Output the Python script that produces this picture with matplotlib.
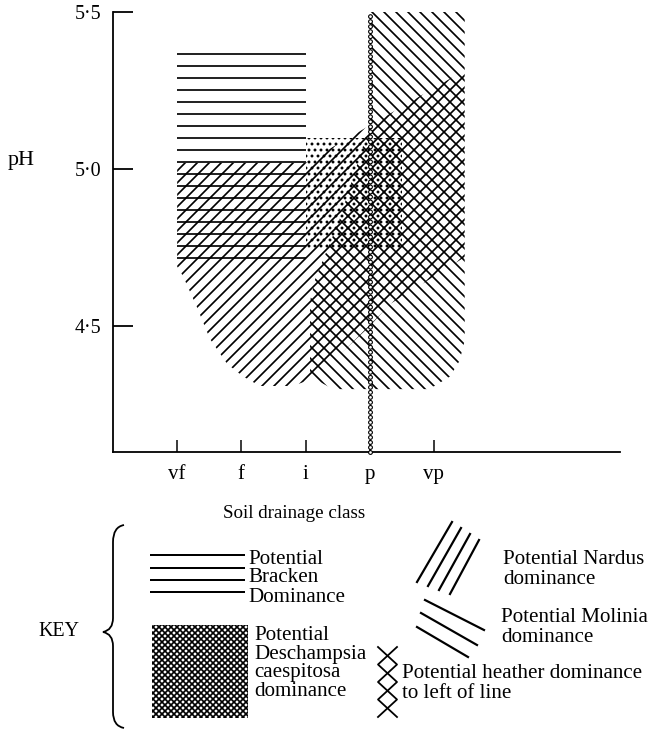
import numpy as np
import matplotlib
matplotlib.use('Agg')
import matplotlib.pyplot as plt
from matplotlib.patches import Polygon, Rectangle, PathPatch
from matplotlib.path import Path

plt.rcParams['font.family'] = ['Liberation Serif', 'DejaVu Serif']
plt.rcParams['hatch.linewidth'] = 1.7
plt.rcParams['lines.scale_dashes'] = False

# drainage classes along x, pH along y
drainage_classes = ['vf', 'f', 'i', 'p', 'vp']
drainage_pos = [1, 2, 3, 4, 5]
ph_ticks = [4.5, 5.0, 5.5]
ph_labels = ['4\u00b75', '5\u00b70', '5\u00b75']

# potential dominance zones (drainage position, pH)
bracken_x = [1, 3, 3, 1]
bracken_ph = [4.7, 4.7, 5.4, 5.4]

nardus_x = [1, 3, 5.48, 5.48, 4.78, 4.31, 4.0, 3.53, 3.07, 2.8, 2.29,
            2.03, 1.78, 1.51, 1.31, 1.09, 1.0]
nardus_ph = [5.02, 5.02, 5.315, 4.72, 4.63, 4.57, 4.50, 4.41, 4.33, 4.31, 4.31,
             4.34, 4.38, 4.46, 4.56, 4.66, 4.69]

molinia_x = [4.0, 5.48, 5.48, 5.40, 5.25, 5.01, 4.89, 3.43, 3.07, 3.07,
             3.15, 3.53, 4.0]
molinia_ph = [5.5, 5.5, 4.455, 4.39, 4.34, 4.31, 4.30, 4.30, 4.34, 4.58,
              4.65, 4.84, 5.14]

deschampsia_x = [3, 4.5, 4.5, 3]
deschampsia_ph = [4.75, 4.75, 5.1, 5.1]

heather_x = [4, 4]
heather_ph = [4.1, 5.5]

W, H = 656, 729
fig = plt.figure(figsize=(W / 72, H / 72), dpi=72)
ax = fig.add_axes([113 / W, 1 - 452 / H, 507 / W, 440 / H])
ax.set_xlim(0, 7.9)
ax.set_ylim(4.1, 5.5)


def zone(xs, ys, hatch):
    p = Polygon(np.column_stack([xs, ys]), closed=True, facecolor='none',
                edgecolor='black', linewidth=0, hatch=hatch)
    ax.add_patch(p)


zone(bracken_x, bracken_ph, '-')
zone(deschampsia_x, deschampsia_ph, '..')
zone(nardus_x, nardus_ph, '//')
zone(molinia_x, molinia_ph, '\\\\')

# heather line: chain of small rings
ax.plot(heather_x, heather_ph, color='black', lw=5, linestyle=(0, (0.01, 5)),
        dash_capstyle='round', clip_on=False, zorder=4)
ax.plot(heather_x, heather_ph, color='white', lw=2.8, linestyle=(0, (0.01, 5)),
        dash_capstyle='round', clip_on=False, zorder=5)

for s in ['top', 'right']:
    ax.spines[s].set_visible(False)
for s in ['left', 'bottom']:
    ax.spines[s].set_linewidth(1.8)

ax.set_xticks(drainage_pos)
ax.set_xticklabels(drainage_classes)
ax.set_yticks(ph_ticks)
ax.set_yticklabels(ph_labels)
ax.tick_params(axis='y', direction='in', length=20, width=1.8, pad=12, labelsize=20)
ax.tick_params(axis='x', direction='in', length=12, width=1.5, pad=13, labelsize=21)

# key drawn in pixel space
k = fig.add_axes([0, 0, 1, 1])
k.set_xlim(0, W)
k.set_ylim(H, 0)
k.axis('off')

fs = 21
k.text(8, 160, 'pH', fontsize=22, va='center', ha='left')
k.text(294, 513, 'Soil drainage class', fontsize=19, ha='center', va='center')
k.text(38, 632, 'KEY', fontsize=20, ha='left', va='center')

brace = Path([(124, 525), (113, 527), (113, 542), (113, 618), (113, 630), (103, 632),
              (113, 634), (113, 646), (113, 712), (113, 726), (124, 728)],
             [Path.MOVETO, Path.CURVE3, Path.CURVE3, Path.LINETO, Path.CURVE3, Path.CURVE3,
              Path.CURVE3, Path.CURVE3, Path.LINETO, Path.CURVE3, Path.CURVE3])
k.add_patch(PathPatch(brace, facecolor='none', edgecolor='black', lw=1.8))

# bracken
k.hlines([555, 568, 580, 592], 150, 245, color='black', lw=2)
for y, t in zip([560, 578, 597], ['Potential', 'Bracken', 'Dominance']):
    k.text(248, y, t, fontsize=fs, va='center')

# deschampsia
k.add_patch(Rectangle((152, 625), 96, 93, facecolor='none', edgecolor='black',
                      linewidth=0, hatch='xxxx'))
for y, t in zip([635, 654, 673, 692], ['Potential', 'Deschampsia', 'caespitosa', 'dominance']):
    k.text(254, y, t, fontsize=fs, va='center')

# nardus
for i in range(4):
    k.plot([417 + 11 * i, 452 + 9 * i], [582 + 4 * i, 522 + 6 * i], color='black', lw=2.2)
k.text(503, 560, 'Potential Nardus', fontsize=fs, va='center')
k.text(503, 579, 'dominance', fontsize=fs, va='center')

# molinia
for x0, y0, x1, y1 in [(425, 600, 484, 630), (421, 613, 477, 645), (417, 627, 468, 657)]:
    k.plot([x0, x1], [y0, y1], color='black', lw=2.2)
k.text(501, 617, 'Potential Molinia', fontsize=fs, va='center')
k.text(501, 637, 'dominance', fontsize=fs, va='center')

# heather
k.plot([378, 397, 378, 397, 378], [647, 664.5, 682, 699.5, 717], color='black', lw=1.8)
k.plot([397, 378, 397, 378, 397], [647, 664.5, 682, 699.5, 717], color='black', lw=1.8)
k.text(402, 673, 'Potential heather dominance', fontsize=fs, va='center')
k.text(402, 694, 'to left of line', fontsize=fs, va='center')

fig.savefig('out.png', dpi=72)
